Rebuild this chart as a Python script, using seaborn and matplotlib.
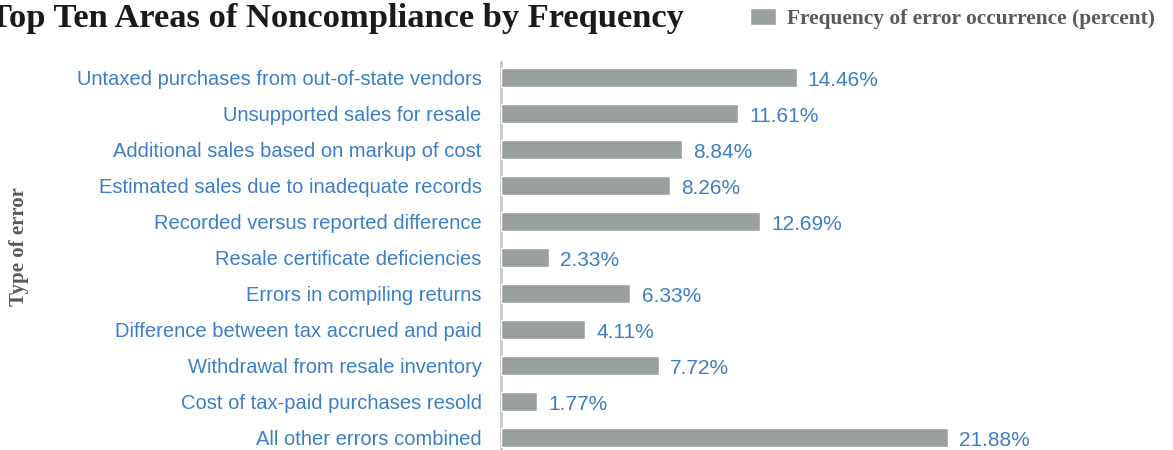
import matplotlib
matplotlib.use("Agg")
import matplotlib.pyplot as plt
import seaborn as sns
import pandas as pd

# data
categories = [
    "Untaxed purchases from out-of-state vendors",
    "Unsupported sales for resale",
    "Additional sales based on markup of cost",
    "Estimated sales due to inadequate records",
    "Recorded versus reported difference",
    "Resale certificate deficiencies",
    "Errors in compiling returns",
    "Difference between tax accrued and paid",
    "Withdrawal from resale inventory",
    "Cost of tax-paid purchases resold",
    "All other errors combined",
]
frequency = [14.46, 11.61, 8.84, 8.26, 12.69, 2.33, 6.33, 4.11, 7.72, 1.77, 21.88]

title = "Top Ten Areas of Noncompliance by Frequency"
legend_label = "Frequency of error occurrence (percent)"
y_title = "Type of error"

bar_color = "#9aa0a0"
blue = "#3b7ec6"
gray_text = "#5a5a5a"

sns.set_theme(style="white")
sans = ["Liberation Sans Narrow", "Liberation Sans", "DejaVu Sans"]
serif = ["Liberation Serif", "DejaVu Serif"]

df = pd.DataFrame({"category": categories, "frequency": frequency})

fig = plt.figure(figsize=(11.73, 4.5), dpi=100)
ax = fig.add_axes([501 / 1173, 0.0, 654 / 1173, 388 / 450])

sns.barplot(data=df, x="frequency", y="category", color=bar_color,
            width=0.53, saturation=1, label=legend_label, ax=ax, zorder=3)

ax.set_xlim(0, 32)
ax.set_ylim(10.36, -0.42)
for s in ["top", "right", "bottom"]:
    ax.spines[s].set_visible(False)
ax.spines["left"].set_color("#c8c8c8")
ax.spines["left"].set_linewidth(2)
ax.set_xticks([])
ax.set_xlabel("")
ax.set_ylabel("")
ax.tick_params(axis="y", length=0, pad=14)
for lbl in ax.get_yticklabels():
    lbl.set_family(sans)
    lbl.set_fontsize(14.5)
    lbl.set_color(blue)

for i, v in enumerate(frequency):
    ax.text(v + 0.55, i + 0.1, f"{v:.2f}%", va="center", ha="left",
            color=blue, fontsize=15, family=sans)

fig.text(-0.009, 0.958, title, ha="left", va="center", fontsize=24.8,
         fontweight="bold", family=serif, color="#1a1a1a")
fig.text(0.016, 0.453, y_title, ha="center", va="center", rotation=90,
         fontsize=15, fontweight="bold", family=serif, color=gray_text)

leg = fig.legend(loc="center left", bbox_to_anchor=(750 / 1173, 0.958), frameon=False,
                 borderpad=0, borderaxespad=0,
                 handlelength=1.2, handleheight=0.85, handletextpad=0.55,
                 prop={"family": serif, "weight": "bold", "size": 15.4})
for t in leg.get_texts():
    t.set_color(gray_text)
if ax.get_legend():
    ax.get_legend().remove()

fig.savefig("out.png", dpi=100)
